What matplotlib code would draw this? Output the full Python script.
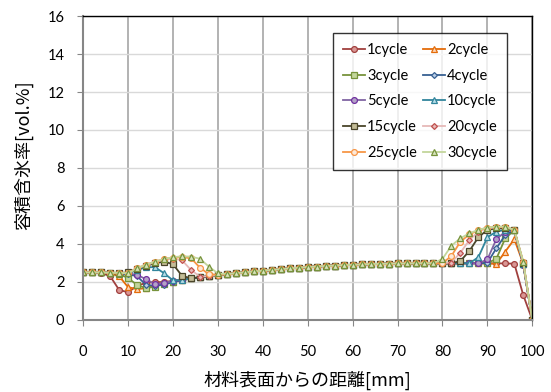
import matplotlib
matplotlib.use("Agg")
import matplotlib.pyplot as plt
import numpy as np

# distance from the surface [mm], one point every 2 mm
x_left = [0, 2, 4, 6, 8, 10, 12, 14, 16, 18, 20, 22, 24, 26, 28, 30, 32]
x_mid = [34, 36, 38, 40, 42, 44, 46, 48, 50, 52, 54, 56, 58, 60, 62, 64, 66, 68, 70, 72, 74, 76, 78]
x_right = [80, 82, 84, 86, 88, 90, 92, 94, 96, 98, 100]

labels = ["1cycle", "2cycle", "3cycle", "4cycle", "5cycle",
          "10cycle", "15cycle", "20cycle", "25cycle", "30cycle"]

# near surface part (0-32 mm)
left_1 = [2.5, 2.5, 2.48, 2.3, 1.58, 1.45, 1.8, 1.95, 1.98, 2.0, 2.05, 2.12, 2.18, 2.24, 2.3, 2.36, 2.41]
left_2 = [2.5, 2.5, 2.5, 2.45, 2.3, 1.72, 1.62, 1.67, 1.85, 1.95, 2.02, 2.1, 2.18, 2.24, 2.3, 2.36, 2.41]
left_3 = [2.5, 2.5, 2.5, 2.47, 2.42, 2.2, 1.84, 1.67, 1.75, 1.9, 2.02, 2.1, 2.18, 2.24, 2.3, 2.36, 2.41]
left_4 = [2.5, 2.5, 2.5, 2.48, 2.45, 2.4, 2.3, 1.84, 1.8, 1.86, 1.98, 2.1, 2.18, 2.24, 2.3, 2.36, 2.41]
left_5 = [2.5, 2.5, 2.5, 2.48, 2.46, 2.45, 2.37, 2.14, 1.88, 1.95, 2.05, 2.12, 2.18, 2.24, 2.3, 2.36, 2.41]
left_10 = [2.5, 2.5, 2.5, 2.48, 2.46, 2.45, 2.62, 2.78, 2.77, 2.46, 2.08, 2.1, 2.18, 2.24, 2.3, 2.36, 2.41]
left_15 = [2.5, 2.5, 2.5, 2.48, 2.46, 2.5, 2.7, 2.85, 2.98, 3.07, 2.93, 2.32, 2.19, 2.24, 2.3, 2.36, 2.41]
left_20 = [2.5, 2.5, 2.5, 2.48, 2.47, 2.48, 2.72, 2.88, 3.05, 3.18, 3.22, 3.14, 2.63, 2.28, 2.3, 2.36, 2.41]
left_25 = [2.5, 2.5, 2.5, 2.48, 2.48, 2.47, 2.72, 2.9, 3.07, 3.2, 3.28, 3.3, 3.25, 2.75, 2.4, 2.37, 2.41]
left_30 = [2.5, 2.5, 2.5, 2.48, 2.48, 2.45, 2.72, 2.9, 3.07, 3.21, 3.3, 3.35, 3.33, 3.22, 2.8, 2.45, 2.41]

# middle part (34-78 mm), same for all cycles
mid_all = [2.46, 2.5, 2.55, 2.59, 2.63, 2.67, 2.71, 2.75, 2.78, 2.81, 2.84, 2.86,
           2.88, 2.9, 2.92, 2.94, 2.95, 2.96, 2.97, 2.97, 2.98, 2.98, 2.98]

# back part (80-100 mm)
right_1 = [2.98, 2.98, 2.98, 2.98, 2.98, 2.98, 2.98, 2.97, 2.96, 1.3, 0.0]
right_2 = [2.98, 2.98, 2.98, 2.98, 2.98, 2.97, 2.95, 3.6, 4.25, 2.95, 0.0]
right_3 = [2.98, 2.98, 2.98, 2.98, 2.98, 2.98, 3.22, 4.3, 4.72, 2.95, 0.0]
right_4 = [2.98, 2.98, 2.98, 2.98, 2.98, 3.0, 3.77, 4.47, 4.72, 2.9, 0.0]
right_5 = [2.98, 2.98, 2.98, 2.98, 2.98, 3.18, 4.25, 4.65, 4.72, 2.9, 0.0]
right_10 = [2.98, 2.98, 2.98, 2.98, 3.3, 4.35, 4.65, 4.74, 4.72, 2.95, 0.0]
right_15 = [2.98, 2.98, 3.1, 3.63, 4.35, 4.74, 4.82, 4.82, 4.74, 3.0, 0.0]
right_20 = [2.98, 3.02, 3.54, 4.2, 4.65, 4.82, 4.88, 4.88, 4.74, 3.0, 0.0]
right_25 = [2.98, 3.37, 4.12, 4.5, 4.72, 4.86, 4.9, 4.9, 4.74, 3.05, 0.0]
right_30 = [3.21, 3.91, 4.3, 4.56, 4.74, 4.86, 4.91, 4.91, 4.74, 3.07, 0.0]

lefts = [left_1, left_2, left_3, left_4, left_5, left_10, left_15, left_20, left_25, left_30]
rights = [right_1, right_2, right_3, right_4, right_5, right_10, right_15, right_20, right_25, right_30]

# (line colour, marker, marker edge, marker face, marker size)
styles = [
    ("#a0403e", "o", "#a0403e", "#d99694", 4.2),
    ("#e46c0a", "^", "#e46c0a", "#fcd5b5", 4.3),
    ("#77933c", "s", "#77933c", "#c3d69b", 4.2),
    ("#376092", "D", "#376092", "#b9cde5", 3.0),
    ("#8064a2", "o", "#7030a0", "#b3a2c7", 4.2),
    ("#31859c", "^", "#31859c", "#b7dee8", 4.3),
    ("#4a452a", "s", "#4a452a", "#c4bd97", 4.8),
    ("#e6b9b8", "D", "#c0504d", "#e6b9b8", 3.0),
    ("#f79646", "o", "#f79646", "#fde9d9", 4.2),
    ("#c3d69b", "^", "#77933c", "#d7e4bd", 4.8),
]

x = np.array(x_left + x_mid + x_right)

fig = plt.figure(figsize=(5.51, 3.92), dpi=100)
ax = fig.add_axes([0.151, 0.184, 0.815, 0.775])

lines = []
for lab, lv, rv, st in zip(labels, lefts, rights, styles):
    y = np.array(lv + mid_all + rv)
    ln, = ax.plot(x, y, color=st[0], lw=1.3, marker=st[1], ms=st[4],
                  mec=st[2], mfc=st[3], mew=0.9, label=lab)
    lines.append(ln)

ax.set_xlim(0, 100)
ax.set_ylim(0, 16)
ax.set_xticks(np.arange(0, 101, 10))
ax.set_yticks(np.arange(0, 17, 2))
ax.xaxis.grid(True, color="#a6a6a6", lw=1.2)
ax.yaxis.grid(True, color="#d9d9d9", lw=1.0)
ax.set_axisbelow(True)

for s in ["left", "bottom"]:
    ax.spines[s].set_color("#868686")
    ax.spines[s].set_linewidth(1.5)
for s in ["top", "right"]:
    ax.spines[s].set_color("#000000")
    ax.spines[s].set_linewidth(1.0)

ax.tick_params(axis="both", direction="out", length=4, color="#868686",
               labelsize=10.5)
ax.tick_params(axis="x", pad=14)
ax.tick_params(axis="y", pad=9.5)
for t in ax.get_xticklabels() + ax.get_yticklabels():
    t.set_family(["Lato", "DejaVu Sans"])

jp = ["Noto Sans CJK JP", "DejaVu Sans"]
ax.set_xlabel("材料表面からの距離[mm]", family=jp, fontsize=13, va="center")
ax.set_ylabel("容積含氷率[vol.%]", family=jp, fontsize=13, va="center")
ax.xaxis.set_label_coords(0.5, -0.198)
ax.yaxis.set_label_coords(-0.133, 0.543)

# legend filled row by row like the original
order = [0, 2, 4, 6, 8, 1, 3, 5, 7, 9]
leg = ax.legend([lines[i] for i in order], [labels[i] for i in order],
                loc="upper left", bbox_to_anchor=(0.556, 0.945), ncol=2,
                frameon=True, fancybox=False, edgecolor="#000000",
                prop={"family": ["Lato", "DejaVu Sans"], "size": 10.5},
                handlelength=1.5, handletextpad=0.15, columnspacing=0.4,
                labelspacing=0.8, borderpad=0.7, borderaxespad=0)
leg.get_frame().set_linewidth(1.0)

fig.savefig("out.png", dpi=100)
